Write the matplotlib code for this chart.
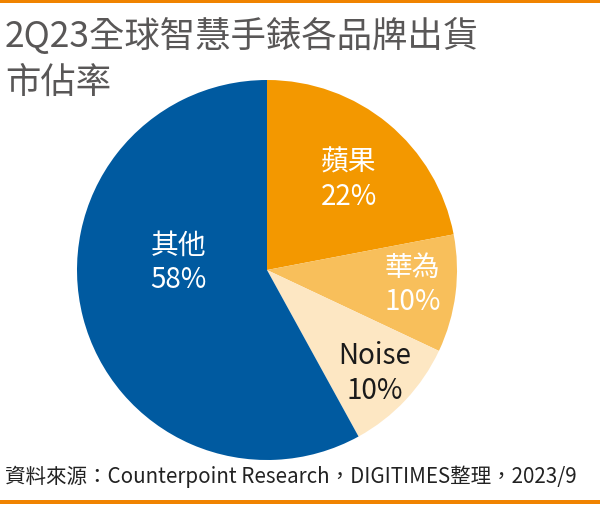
import numpy as np
import matplotlib.pyplot as plt
from matplotlib.patches import Rectangle

plt.rcParams['font.family'] = ['Noto Sans CJK TC', 'DejaVu Sans']

# data
brands = ['蘋果', '華為', 'Noise', '其他']
shares = [22, 10, 10, 58]
colors = ['#F39800', '#F8BF5B', '#FDE7C3', '#005AA0']
text_colors = ['white', 'white', '#1a1a1a', 'white']

title = '2Q23全球智慧手錶各品牌出貨\n市佔率'
source = '資料來源：Counterpoint Research，DIGITIMES整理，2023/9'

# label placement (radius fraction, angle offset in degrees)
label_r = [0.65, 0.77, 0.78, 0.47]
label_da = [-2, 2, 0, -20]

fig = plt.figure(figsize=(6, 5.08), dpi=100)
ax = fig.add_axes([267/600 - 190/600, (508-460)/508, 380/600, 380/508])

wedges, _ = ax.pie(shares, colors=colors, startangle=90, counterclock=False,
                   radius=1, wedgeprops=dict(linewidth=0))
ax.set_xlim(-1, 1)
ax.set_ylim(-1, 1)

for w, name, val, r, da, tc in zip(wedges, brands, shares, label_r, label_da, text_colors):
    mid = np.deg2rad((w.theta1 + w.theta2) / 2 + da)
    x, y = r*np.cos(mid), r*np.sin(mid)
    ax.text(x, y - 0.01, f'{name}\n{val}%', ha='center', va='center', fontsize=20,
            color=tc, linespacing=1.2)

fig.text(5/600, 1 - 18/508, title, ha='left', va='top', fontsize=25.5,
         color='#595757', linespacing=1.35)
fig.text(5/600, 1 - 477/508, source, ha='left', va='center', fontsize=14.8,
         color='#222222')

fig.add_artist(Rectangle((0, 1 - 3/508), 1, 3/508, transform=fig.transFigure,
                         color='#F08300', lw=0))
fig.add_artist(Rectangle((0, 1 - 504/508), 1, 4/508, transform=fig.transFigure,
                         color='#F08300', lw=0))

fig.savefig('out.png', dpi=100)
